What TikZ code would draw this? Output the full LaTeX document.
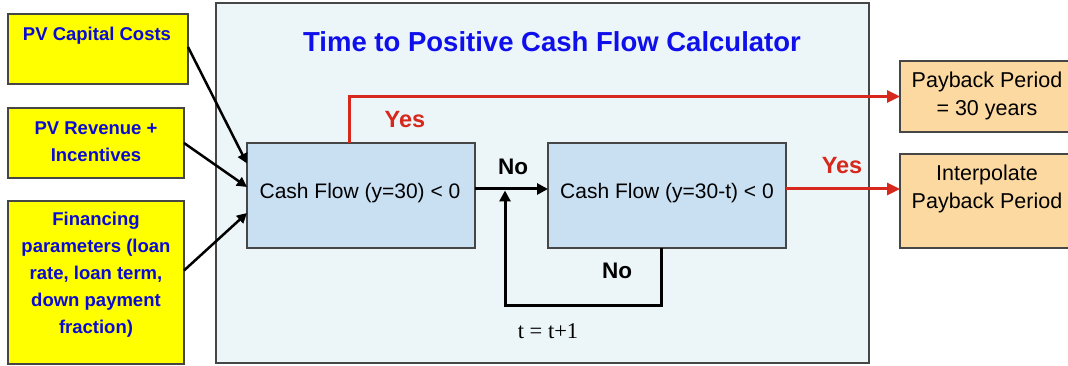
\documentclass[tikz,border=0pt]{standalone}
\usepackage{fontspec}
\setmainfont{Liberation Sans}
\newfontfamily\seriffont{Liberation Serif}
\usetikzlibrary{arrows.meta,calc}
\definecolor{yfill}{RGB}{255,255,0}
\definecolor{ytext}{RGB}{10,10,210}
\definecolor{titleblue}{RGB}{15,15,235}
\definecolor{contfill}{RGB}{236,245,247}
\definecolor{boxfill}{RGB}{201,223,242}
\definecolor{orfill}{RGB}{252,217,160}
\definecolor{redline}{RGB}{214,40,28}
\definecolor{edge}{RGB}{70,70,70}
\begin{document}
\begin{tikzpicture}[x=1pt,y=-1pt,
  inbox/.style={draw=edge,line width=1.4pt,fill=yfill,inner sep=0,outer sep=0},
  intext/.style={text=ytext,font=\bfseries\fontsize{18.5}{27}\selectfont,align=center},
  calcbox/.style={draw=edge,line width=1.4pt,fill=boxfill,inner sep=0,outer sep=0,
     font=\fontsize{21}{26}\selectfont},
  outbox/.style={draw=edge,line width=1.4pt,fill=orfill,inner sep=0,outer sep=0},
  outtext/.style={font=\fontsize{21.5}{28.5}\selectfont,align=center},
  inarrow/.style={line width=2.5pt,-{Triangle[length=10pt,width=10pt]}},
  flowarrow/.style={line width=3pt,-{Triangle[length=11pt,width=11pt]}},
  yesarrow/.style={draw=redline,line width=3pt,-{Triangle[length=13pt,width=12pt]},color=redline},
  nolabel/.style={font=\bfseries\fontsize{22.5}{26}\selectfont},
  yeslabel/.style={text=redline,font=\bfseries\fontsize{23.5}{26}\selectfont}
]
\clip (0,0) rectangle (1068,366);
\fill[white] (0,0) rectangle (1068,366);

% container
\node[draw=edge,line width=1.4pt,fill=contfill,minimum width=653,minimum height=360,inner sep=0] (cont) at (542.5,183) {};
\node[text=titleblue,font=\bfseries\fontsize{27.5}{30}\selectfont] (title) at (552,42) {Time to Positive Cash Flow Calculator};

% inputs
\node[inbox,minimum width=180,minimum height=70] (pv1) at (98,49) {};
\node[intext] (pv1t) at (97,36) {PV Capital Costs};
\node[inbox,minimum width=176,minimum height=70] (pv2) at (96,143) {};
\node[intext] (pv2t) at (96,142) {PV Revenue +\\Incentives};
\node[inbox,minimum width=176,minimum height=163] (pv3) at (96,282.5) {};
\node[intext] (pv3t) at (96,275) {Financing\\parameters (loan\\rate, loan term,\\down payment\\fraction)};

% calculator boxes
\node[calcbox,minimum width=228,minimum height=105] (A) at (361,195.5) {};
\node[font=\fontsize{21}{26}\selectfont] (At) at (360,193) {Cash Flow (y=30) < 0};
\node[calcbox,minimum width=238,minimum height=105] (B) at (667,195.5) {};
\node[font=\fontsize{21}{26}\selectfont] (Bt) at (667,193) {Cash Flow (y=30-t) < 0};

% outputs
\node[outbox,minimum width=180,minimum height=71] (pay1) at (990,96.5) {};
\node[outtext] (pay1t) at (987,96) {Payback Period\\= 30 years};
\node[outbox,minimum width=180,minimum height=94] (pay2) at (990,201) {};
\node[outtext] (pay2t) at (987,189) {Interpolate\\Payback Period};

% input arrows
\draw[inarrow] ([yshift=2pt]pv1.east) -- ([yshift=32pt]A.west);
\draw[inarrow] (pv2.east) -- ([yshift=8.5pt]A.west);
\draw[inarrow] ([yshift=12pt]pv3.east) -- ([yshift=-17.5pt]A.west);

% flow
\draw[flowarrow] ([yshift=6.5pt]A.east) -- ([yshift=6.5pt]B.west);
\coordinate (loopc) at (505,305);
\coordinate (join) at (505,190.5);
\draw[flowarrow] ([xshift=-6pt]B.south) |- (loopc) -- (join);

\draw[yesarrow] ([xshift=-12pt]A.north) |- (pay1.west);
\draw[yesarrow] ([yshift=6.5pt]B.east) -- ([yshift=6.5pt]B.east -| pay2.west);

% labels
\node[yeslabel] (yes1) at (405,120) {Yes};
\node[yeslabel] (yes2) at (842,166) {Yes};
\node[nolabel] (no1) at (513,167) {No};
\node[nolabel] (no2) at (617,271) {No};
\node[font=\seriffont\fontsize{22.5}{26}\selectfont] (tinc) at (548,331) {t = t+1};
\end{tikzpicture}
\end{document}
